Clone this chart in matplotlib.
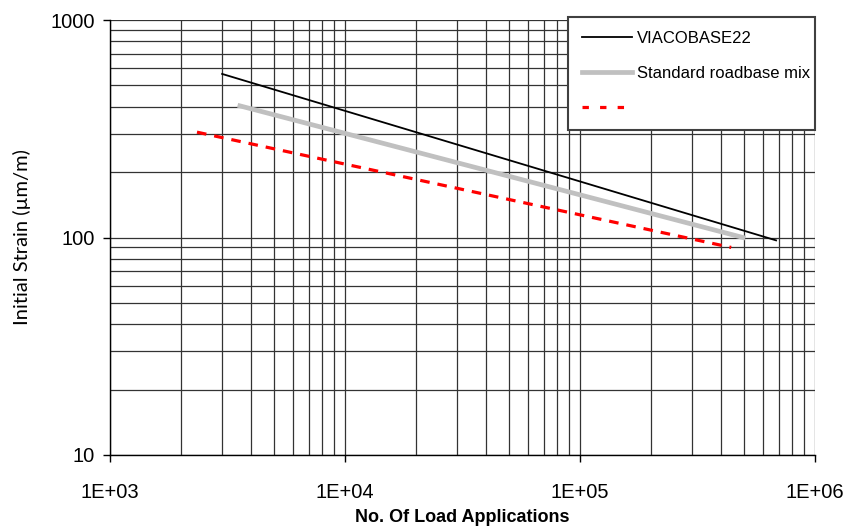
import matplotlib
matplotlib.use("Agg")
import matplotlib.pyplot as plt
from matplotlib.lines import Line2D
from matplotlib.ticker import LogLocator, FixedLocator, NullFormatter

# Data
viaco_x = [3000, 683000]
viaco_y = [565, 97]
std_x = [3570, 494000]
std_y = [403, 100]
red_x = [2345, 440000]
red_y = [305, 90]

labels = ["VIACOBASE22", "Standard roadbase mix", ""]
xticks = [1e3, 1e4, 1e5, 1e6]
xticklabels = ["1E+03", "1E+04", "1E+05", "1E+06"]
yticks = [10, 100, 1000]
yticklabels = ["10", "100", "1000"]

fig = plt.figure(figsize=(8.51, 5.28), dpi=100)
ax = fig.add_axes([110/851, 1-455/528, (815-110)/851, (455-20)/528])
ax.set_xscale("log")
ax.set_yscale("log")
ax.set_xlim(1e3, 1e6)
ax.set_ylim(10, 1000)

ax.grid(True, which="both", color="#333333", linewidth=0.9)
ax.set_axisbelow(True)

l1, = ax.plot(viaco_x, viaco_y, color="black", linewidth=1.3, label=labels[0], zorder=3)
l2, = ax.plot(std_x, std_y, color="#c0c0c0", linewidth=3.4, label=labels[1], zorder=3)
l3, = ax.plot(red_x, red_y, color="#ff0000", linewidth=2.3, linestyle=(0, (3, 2.5)), label=labels[2], zorder=3)
h3 = Line2D([], [], color="#ff0000", linewidth=2.3, linestyle=(0, (2, 3.5)))

ax.xaxis.set_major_locator(FixedLocator(xticks))
ax.set_xticklabels(xticklabels, fontfamily="Liberation Sans", fontsize=14.5)
ax.yaxis.set_major_locator(FixedLocator(yticks))
ax.set_yticklabels(yticklabels, fontfamily="Liberation Sans", fontsize=14.5)
ax.xaxis.set_minor_locator(LogLocator(base=10, subs=range(2, 10)))
ax.yaxis.set_minor_locator(LogLocator(base=10, subs=range(2, 10)))
ax.xaxis.set_minor_formatter(NullFormatter())
ax.yaxis.set_minor_formatter(NullFormatter())
ax.tick_params(which="major", direction="out", length=5, width=1)
ax.tick_params(axis="x", which="major", pad=15)
ax.tick_params(axis="y", which="major", pad=6)
ax.tick_params(which="minor", length=0)

for s in ["top", "right"]:
    ax.spines[s].set_visible(False)
for s in ["left", "bottom"]:
    ax.spines[s].set_linewidth(1)

ax.set_xlabel("No. Of Load Applications", fontfamily="Liberation Sans", fontweight="bold", fontsize=13, labelpad=5)
ax.set_ylabel("Initial Strain (\u00b5m/m)", fontfamily="Lato", fontsize=14.5, labelpad=14)

leg = fig.legend(handles=[l1, l2, h3], labels=labels, loc="upper left",
                 bbox_to_anchor=(568/851, 1-123/528, 247/851, 106/528), mode="expand",
                 prop={"family": "Liberation Sans", "size": 12},
                 frameon=True, fancybox=False, edgecolor="#404040", framealpha=1,
                 handlelength=3.0, borderpad=0.85, labelspacing=1.2, handletextpad=0.3,
                 borderaxespad=0)
leg.get_frame().set_linewidth(1.5)

fig.savefig("out.png", dpi=100)
